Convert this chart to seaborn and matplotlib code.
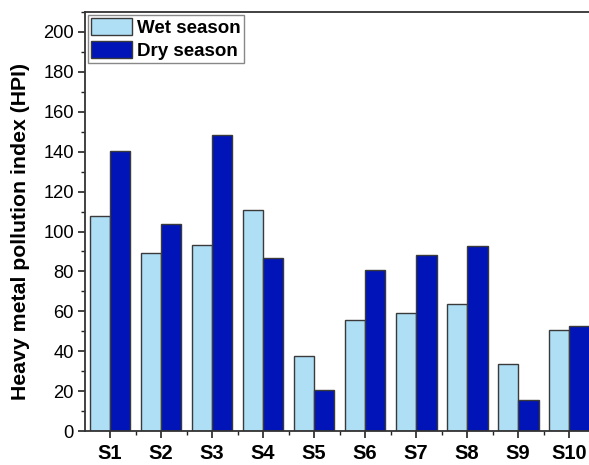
import matplotlib
matplotlib.use('Agg')
import matplotlib.pyplot as plt
import numpy as np
import pandas as pd
import seaborn as sns
from matplotlib.ticker import MultipleLocator, FixedLocator

sites = ['S1', 'S2', 'S3', 'S4', 'S5', 'S6', 'S7', 'S8', 'S9', 'S10']
wet = [108, 89, 93, 111, 37.5, 55.7, 59.2, 63.7, 33.8, 50.8]
dry = [140.5, 104, 148.5, 86.5, 20.7, 80.5, 88.2, 92.7, 15.3, 52.8]
seasons = ['Wet season', 'Dry season']
colors = ['#AEDFF5', '#0014B8']

df = pd.DataFrame({
    'site': sites * 2,
    'hpi': wet + dry,
    'season': [seasons[0]] * len(sites) + [seasons[1]] * len(sites),
})

sns.set_style('ticks')
plt.rcParams['font.family'] = ['Liberation Sans', 'DejaVu Sans']
plt.rcParams['text.color'] = 'black'
plt.rcParams['xtick.color'] = '#222222'
plt.rcParams['ytick.color'] = '#222222'
plt.rcParams['xtick.labelcolor'] = 'black'
plt.rcParams['ytick.labelcolor'] = 'black'
plt.rcParams['axes.labelcolor'] = 'black'

fig = plt.figure(figsize=(5.89, 4.65), dpi=100)
ax = fig.add_axes([0.1443, 0.0731, 0.874, 0.901])

sns.barplot(data=df, x='site', y='hpi', hue='season', palette=colors,
            saturation=1, width=0.8, edgecolor='#3a3a3a', linewidth=1.0, ax=ax)

ax.set_xlim(-0.49, 9.6)
ax.set_ylim(0, 210)
ax.yaxis.set_major_locator(MultipleLocator(20))
ax.yaxis.set_minor_locator(MultipleLocator(10))
ax.xaxis.set_minor_locator(FixedLocator(np.arange(-0.5, 10, 1)))
ax.tick_params(axis='both', which='major', direction='out', length=5, width=1.2)
ax.tick_params(axis='both', which='minor', direction='out', length=3, width=1.0)
ax.tick_params(axis='y', labelsize=13.2, pad=3)
ax.tick_params(axis='x', labelsize=14.5, pad=4)
for lbl in ax.get_xticklabels():
    lbl.set_fontweight('bold')

for side in ['left', 'bottom', 'top']:
    ax.spines[side].set_visible(True)
    ax.spines[side].set_linewidth(1.3)
    ax.spines[side].set_color('#333333')
ax.spines['right'].set_visible(False)

ax.set_xlabel('')
ax.set_ylabel('Heavy metal pollution index (HPI)', fontsize=15.3, fontweight='bold')
ax.yaxis.set_label_coords(-0.107, 0.476)

leg = ax.legend(loc='upper left', bbox_to_anchor=(0.0, 1.0), frameon=True, fancybox=False,
                edgecolor='#888888', framealpha=1, borderpad=0.15, labelspacing=0.2,
                handlelength=2.2, handleheight=1.07, handletextpad=0.3, borderaxespad=0.15,
                prop={'weight': 'bold', 'size': 13.5})
leg.get_frame().set_linewidth(1.0)

fig.savefig('out.png', dpi=100)
